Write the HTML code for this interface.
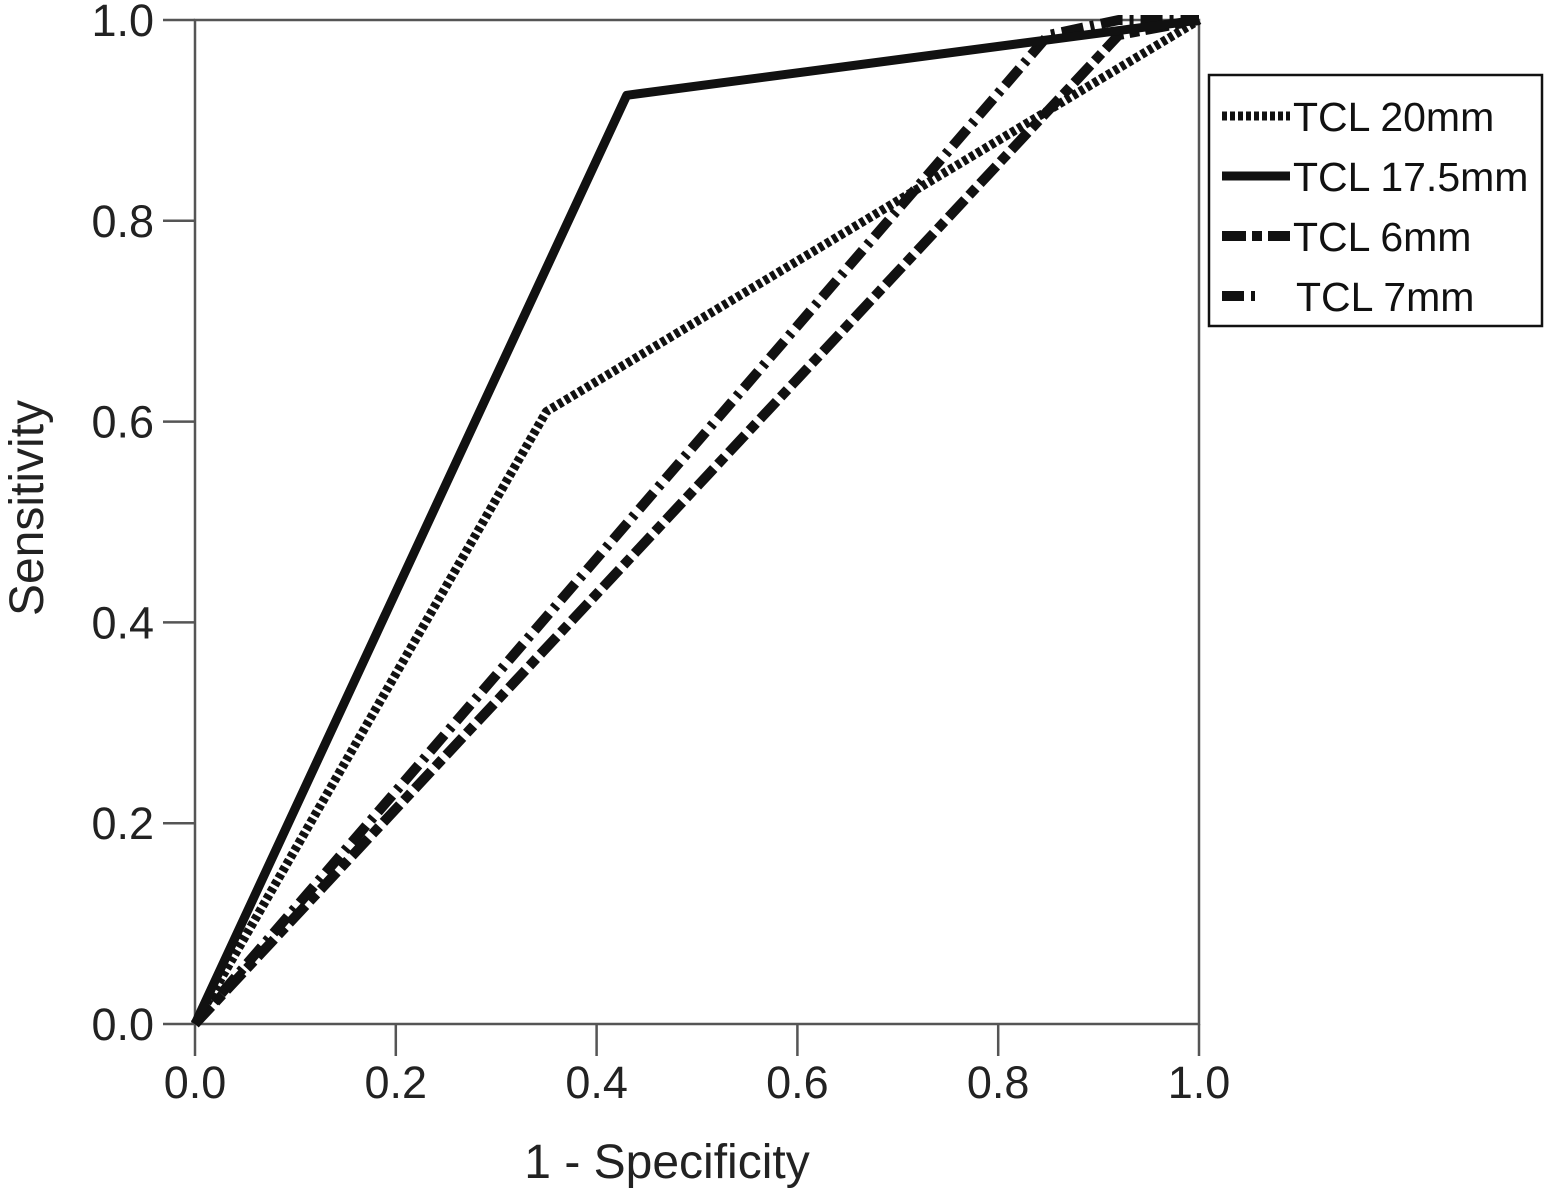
<!DOCTYPE html>
<html><head><meta charset="utf-8"><style>
body{margin:0;background:#fff}
svg{display:block;font-family:"Liberation Sans",sans-serif}
</style></head><body>
<svg id="chart" width="1548" height="1199">
<g id="axes"></g><g id="series"></g><g id="legend"></g>
</svg>
<script>
const ticks=[0,0.2,0.4,0.6,0.8,1.0];
const tickLabels=["0.0","0.2","0.4","0.6","0.8","1.0"];
const seriesNames=["TCL 20mm","TCL 17.5mm","TCL 6mm","TCL 7mm"];
const x20=[0,0.35,1],y20=[0,0.61,1];
const x175=[0,0.43,1],y175=[0,0.925,1];
const x6=[0,0.92,1],y6=[0,0.985,1];
const x7=[0,0.85,0.92,1],y7=[0,0.985,1,1];
const NS="http://www.w3.org/2000/svg";
const X=v=>195+v*1004, Y=v=>1024-v*1004;
function mk(t,a,p){const e=document.createElementNS(NS,t);for(const k in a)e.setAttribute(k,a[k]);p.appendChild(e);return e;}
const ax=document.getElementById('axes');
const frame=mk('path',{d:`M${X(0)},${Y(0)} L${X(0)},${Y(1)} L${X(1)},${Y(1)} L${X(1)},${Y(0)} L${X(0)},${Y(0)}`,fill:'none',stroke:'#555','stroke-width':2.5},ax);


ticks.forEach((t,i)=>{
 const a=mk('line',{x1:X(t),x2:X(t),y1:Y(0),y2:Y(0)+32,stroke:'#555','stroke-width':2.5},ax);
 
 
 const b=mk('line',{x1:X(0)-32,x2:X(0),y1:Y(t),y2:Y(t),stroke:'#555','stroke-width':2.5},ax);
 
 
 const tx=mk('text',{x:X(t),y:1098,'text-anchor':'middle','font-size':45,fill:'#222'},ax);tx.textContent=tickLabels[i];
 
 
 const ty=mk('text',{x:154,y:Y(t)+16,'text-anchor':'end','font-size':45,fill:'#222'},ax);ty.textContent=tickLabels[i];
 
 
});
const xt=mk('text',{x:667,y:1178,'text-anchor':'middle','font-size':48,fill:'#222'},ax);xt.textContent='1 - Specificity';


const yt=mk('text',{x:0,y:0,'text-anchor':'middle','font-size':48,fill:'#222',transform:'translate(43,508) rotate(-90)'},ax);yt.textContent='Sensitivity';


const styles=[
 {w:9,dash:'5 3'},
 {w:9,dash:''},
 {w:10,dash:'24 6 10 6'},
 {w:10,dash:'22 7 4 7'}];
const sg=document.getElementById('series');
const data=[[x20,y20],[x175,y175],[x6,y6],[x7,y7]];
const names=['line-tcl-20mm','line-tcl-17-5mm','line-tcl-6mm','line-tcl-7mm'];
[3,2,0,1].forEach(i=>{
 const [xs,ys]=data[i];
 const pts=xs.map((v,j)=>X(v)+','+Y(ys[j])).join(' ');
 const p=mk('polyline',{points:pts,fill:'none',stroke:'#111','stroke-width':styles[i].w,'stroke-dasharray':styles[i].dash,'stroke-linejoin':'round'},sg);
 
 
});
const lg=document.getElementById('legend');
const box=mk('rect',{x:1209,y:75,width:333,height:251,fill:'#fff',stroke:'#111','stroke-width':2.5},lg);


seriesNames.forEach((n,i)=>{
 const y=116+i*60;
 const l=mk('line',{x1:1222,x2:1290,y1:y,y2:y,stroke:'#111','stroke-width':styles[i].w,'stroke-dasharray':i==3?'22 7 4 40':styles[i].dash},lg);
 
 
 const t=mk('text',{x:i==3?1296:1293,y:y+15,'font-size':41,fill:'#111'},lg);t.textContent=n;
 
 
});
</script>
</body></html>
